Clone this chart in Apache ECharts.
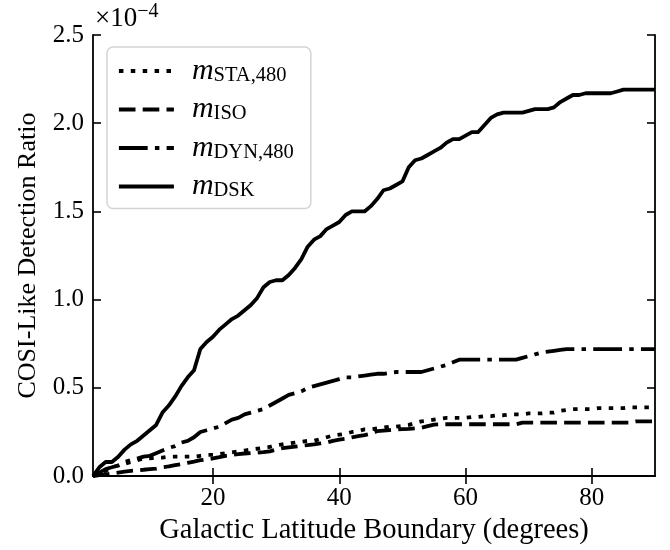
<!DOCTYPE html>
<html>
<head>
<meta charset="utf-8">
<script src="https://cdn.jsdelivr.net/npm/echarts@6/dist/echarts.min.js"></script>
<style>
  html, body { margin: 0; padding: 0; background: #fff; }
  #chart { width: 670px; height: 550px; }
</style>
</head>
<body>
<div id="chart"></div>
<script>
// Galactic latitude boundary (degrees)
const latitudes = Array.from({ length: 90 }, (_, i) => i + 1);

// Detection ratios, in units of 1e-4
const staRatio = [
  0.00, 0.02, 0.03, 0.05, 0.06, 0.07, 0.08, 0.09, 0.10, 0.10,
  0.105, 0.105, 0.11, 0.11, 0.11, 0.11, 0.11, 0.115, 0.12, 0.12,
  0.125, 0.13, 0.135, 0.14, 0.145, 0.15, 0.155, 0.16, 0.165, 0.175,
  0.18, 0.185, 0.19, 0.195, 0.20, 0.20, 0.21, 0.22, 0.23, 0.235,
  0.24, 0.25, 0.255, 0.265, 0.265, 0.27, 0.275, 0.28, 0.28, 0.285,
  0.29, 0.30, 0.31, 0.315, 0.32, 0.325, 0.33, 0.33, 0.33, 0.33,
  0.335, 0.335, 0.34, 0.34, 0.345, 0.345, 0.35, 0.35, 0.35, 0.355,
  0.355, 0.355, 0.36, 0.36, 0.37, 0.375, 0.38, 0.38, 0.38, 0.38,
  0.385, 0.385, 0.385, 0.385, 0.385, 0.39, 0.39, 0.39, 0.39, 0.39
];
const isoRatio = [
  0.00, 0.005, 0.01, 0.015, 0.02, 0.025, 0.03, 0.033, 0.036, 0.04,
  0.042, 0.05, 0.055, 0.062, 0.068, 0.075, 0.082, 0.09, 0.095, 0.10,
  0.107, 0.115, 0.12, 0.125, 0.128, 0.13, 0.133, 0.136, 0.14, 0.15,
  0.158, 0.163, 0.167, 0.172, 0.176, 0.18, 0.185, 0.19, 0.20, 0.207,
  0.212, 0.22, 0.226, 0.232, 0.24, 0.255, 0.258, 0.261, 0.264, 0.266,
  0.268, 0.271, 0.274, 0.283, 0.292, 0.294, 0.294, 0.294, 0.294, 0.294,
  0.294, 0.294, 0.294, 0.294, 0.294, 0.294, 0.294, 0.294, 0.303, 0.303,
  0.303, 0.303, 0.303, 0.303, 0.303, 0.303, 0.303, 0.303, 0.303, 0.303,
  0.303, 0.303, 0.303, 0.303, 0.303, 0.303, 0.31, 0.31, 0.31, 0.31
];
const dynRatio = [
  0.00, 0.02, 0.04, 0.05, 0.06, 0.08, 0.09, 0.10, 0.11, 0.115,
  0.13, 0.145, 0.16, 0.17, 0.19, 0.20, 0.22, 0.25, 0.26, 0.27,
  0.28, 0.30, 0.32, 0.33, 0.35, 0.36, 0.37, 0.38, 0.40, 0.42,
  0.44, 0.46, 0.47, 0.48, 0.50, 0.51, 0.52, 0.53, 0.54, 0.55,
  0.56, 0.56, 0.565, 0.57, 0.575, 0.58, 0.58, 0.585, 0.59, 0.59,
  0.59, 0.59, 0.59, 0.60, 0.61, 0.62, 0.63, 0.645, 0.66, 0.66,
  0.66, 0.66, 0.66, 0.66, 0.66, 0.66, 0.66, 0.66, 0.67, 0.68,
  0.69, 0.70, 0.705, 0.71, 0.715, 0.72, 0.72, 0.72, 0.72, 0.72,
  0.72, 0.72, 0.72, 0.72, 0.72, 0.72, 0.72, 0.72, 0.72, 0.72
];
const dskRatio = [
  0.00, 0.05, 0.08, 0.08, 0.11, 0.15, 0.18, 0.20, 0.23, 0.26,
  0.29, 0.36, 0.40, 0.45, 0.51, 0.56, 0.60, 0.72, 0.76, 0.79,
  0.83, 0.86, 0.89, 0.91, 0.94, 0.97, 1.01, 1.07, 1.10, 1.11,
  1.11, 1.14, 1.18, 1.23, 1.30, 1.34, 1.36, 1.40, 1.42, 1.44,
  1.48, 1.50, 1.50, 1.50, 1.53, 1.57, 1.62, 1.63, 1.65, 1.67,
  1.75, 1.79, 1.80, 1.82, 1.84, 1.86, 1.89, 1.91, 1.91, 1.93,
  1.95, 1.95, 1.99, 2.03, 2.05, 2.06, 2.06, 2.06, 2.06, 2.07,
  2.08, 2.08, 2.08, 2.09, 2.12, 2.14, 2.16, 2.16, 2.17, 2.17,
  2.17, 2.17, 2.17, 2.18, 2.19, 2.19, 2.19, 2.19, 2.19, 2.19
];

// Series names and their legend subscripts
const seriesNames = ['mSTA480', 'mISO', 'mDYN480', 'mDSK'];
const subscripts = { mSTA480: 'STA,480', mISO: 'ISO', mDYN480: 'DYN,480', mDSK: 'DSK' };

const xTicks = [20, 40, 60, 80];

const SERIF = '"Liberation Serif", "DejaVu Serif", serif';
const LINE_WIDTH = 3.8;

function pairs(values) {
  return latitudes.map((x, i) => [x, values[i]]);
}

function lineSeries(name, values, dash) {
  return {
    name: name,
    type: 'line',
    data: pairs(values),
    symbol: 'none',
    showSymbol: false,
    animation: false,
    lineStyle: { color: '#000', width: LINE_WIDTH, type: dash, cap: 'butt', join: 'round' },
    itemStyle: { color: '#000' },
    emphasis: { disabled: true }
  };
}

const chart = echarts.init(document.getElementById('chart'), null, { renderer: 'canvas' });

const axisLine = { show: true, lineStyle: { color: '#000', width: 1.8 } };
const tickStyle = { color: '#000', width: 1.6 };

chart.setOption({
  backgroundColor: '#fff',
  animation: false,
  grid: { left: 93, right: 15, top: 35, bottom: 71, containLabel: false },
  xAxis: [
    {
      type: 'value', position: 'bottom', min: 1, max: 90,
      axisLine: axisLine,
      axisTick: { show: true, inside: true, length: 8, lineStyle: tickStyle, customValues: xTicks },
      axisLabel: { show: true, customValues: xTicks, color: '#000', fontFamily: SERIF, fontSize: 25, margin: 10 },
      splitLine: { show: false },
      name: 'Galactic Latitude Boundary (degrees)',
      nameLocation: 'middle', nameGap: 38,
      nameTextStyle: { color: '#000', fontFamily: SERIF, fontSize: 28.5 }
    },
    {
      type: 'value', position: 'top', min: 1, max: 90,
      axisLine: axisLine,
      axisTick: { show: true, inside: true, length: 8, lineStyle: tickStyle, customValues: xTicks },
      axisLabel: { show: false },
      splitLine: { show: false }
    }
  ],
  yAxis: [
    {
      type: 'value', position: 'left', min: 0, max: 2.5, interval: 0.5,
      axisLine: axisLine,
      axisTick: { show: true, inside: true, length: 8, lineStyle: tickStyle },
      axisLabel: { color: '#000', fontFamily: SERIF, fontSize: 25, margin: 9,
                   formatter: v => v.toFixed(1) },
      splitLine: { show: false },
      name: 'COSI-Like Detection Ratio',
      nameLocation: 'middle', nameGap: 52,
      nameTextStyle: { color: '#000', fontFamily: SERIF, fontSize: 26 }
    },
    {
      type: 'value', position: 'right', min: 0, max: 2.5, interval: 0.5,
      axisLine: axisLine,
      axisTick: { show: true, inside: true, length: 8, lineStyle: tickStyle },
      axisLabel: { show: false },
      splitLine: { show: false }
    }
  ],
  legend: {
    data: seriesNames,
    orient: 'vertical',
    left: 107, top: 47,
    padding: [9, 17, 7, 10],
    itemGap: 8.5,
    itemWidth: 55,
    itemHeight: 14,
    selectedMode: false,
    backgroundColor: 'rgba(255,255,255,0.8)',
    borderColor: '#d4d4d4',
    borderWidth: 1.5,
    borderRadius: 6,
    itemStyle: { opacity: 0, borderWidth: 0 },
    lineStyle: { width: LINE_WIDTH, cap: 'butt' },
    formatter: name => '{m|m}{s|' + subscripts[name] + '}',
    textStyle: {
      padding: [0, 0, 0, 13],
      rich: {
        m: { fontFamily: SERIF, fontStyle: 'italic', fontSize: 30, lineHeight: 30, color: '#000' },
        s: { fontFamily: SERIF, fontSize: 20.5, lineHeight: 15, verticalAlign: 'bottom', color: '#000' }
      }
    }
  },
  graphic: [
    {
      type: 'text', left: 95, top: 2,
      style: {
        text: '{a|×10}{b|−4}',
        rich: {
          a: { fontFamily: SERIF, fontSize: 27, lineHeight: 30, verticalAlign: 'bottom', fill: '#000' },
          b: { fontFamily: SERIF, fontSize: 20, lineHeight: 19, verticalAlign: 'top', fill: '#000' }
        }
      }
    }
  ],
  series: [
    lineSeries('mSTA480', staRatio, [4.5, 7.4]),
    lineSeries('mISO', isoRatio, [16.6, 7.2]),
    lineSeries('mDYN480', dynRatio, [28.8, 7.2, 4.5, 7.2]),
    lineSeries('mDSK', dskRatio, 'solid')
  ]
});
</script>
</body>
</html>
